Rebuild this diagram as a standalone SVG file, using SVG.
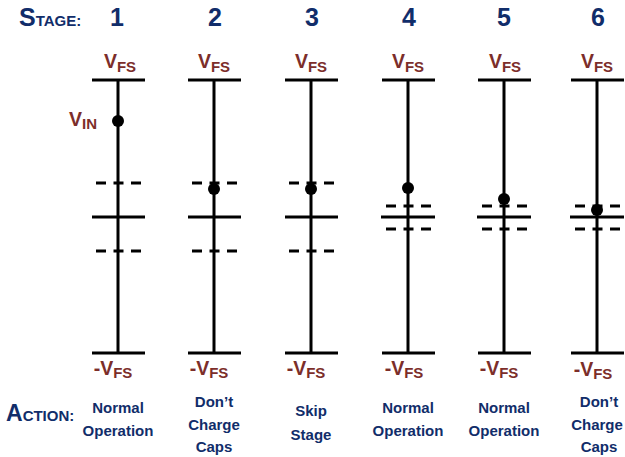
<svg xmlns="http://www.w3.org/2000/svg" width="625" height="457" viewBox="0 0 625 457">
<style>
.t{font-family:"Liberation Sans",Arial,sans-serif;font-weight:bold}
.blue{fill:#112D6A}
.red{fill:#7C2E2A}
.ln{stroke:#000;stroke-width:3;fill:none}
.dash{stroke:#000;stroke-width:3;fill:none;stroke-dasharray:10 7.5}
.act{font-size:15px;text-anchor:middle}
.v{font-size:19.5px;text-anchor:middle}
.sub{font-size:15px}
.num{font-size:25px;text-anchor:middle}
</style>
<rect width="625" height="457" fill="#fff"/>
<g id="headers">
<text class="t blue" x="19" y="26" font-size="25">S<tspan font-size="15">TAGE:</tspan></text>
<text class="t blue" x="6" y="421" font-size="23">A<tspan font-size="15">CTION:</tspan></text>
</g>
<g id="stage1">
<text class="t blue num" x="117" y="26">1</text>
<line class="ln" x1="118" y1="80" x2="118" y2="353"/>
<line class="ln" x1="92" y1="80" x2="145" y2="80"/>
<line class="ln" x1="92" y1="353" x2="145" y2="353"/>
<line class="ln" x1="92" y1="217" x2="145" y2="217"/>
<line class="dash" x1="96" y1="183" x2="141" y2="183"/>
<line class="dash" x1="96" y1="251" x2="141" y2="251"/>
<circle cx="118" cy="121" r="6"/>
<text class="t red v" x="120" y="68">V<tspan class="sub" dy="3.5">FS</tspan></text>
<text class="t red v" x="113" y="375">-V<tspan class="sub" dy="3">FS</tspan></text>
<text class="t red" x="69" y="126" font-size="19.5">V<tspan class="sub" dy="2.5">IN</tspan></text>
<text class="t blue act" x="118" y="413">Normal</text>
<text class="t blue act" x="118" y="436">Operation</text>
</g>
<g id="stage2">
<text class="t blue num" x="215" y="26">2</text>
<line class="ln" x1="214" y1="80" x2="214" y2="353"/>
<line class="ln" x1="188" y1="80" x2="241" y2="80"/>
<line class="ln" x1="188" y1="353" x2="241" y2="353"/>
<line class="ln" x1="188" y1="217" x2="241" y2="217"/>
<line class="dash" x1="192" y1="183" x2="237" y2="183"/>
<line class="dash" x1="192" y1="251" x2="237" y2="251"/>
<circle cx="214" cy="189" r="6"/>
<text class="t red v" x="214" y="68">V<tspan class="sub" dy="3.5">FS</tspan></text>
<text class="t red v" x="209" y="375">-V<tspan class="sub" dy="3">FS</tspan></text>
<text class="t blue act" x="214" y="407">Don’t</text>
<text class="t blue act" x="214" y="430">Charge</text>
<text class="t blue act" x="214" y="452">Caps</text>
</g>
<g id="stage3">
<text class="t blue num" x="312" y="26">3</text>
<line class="ln" x1="311" y1="80" x2="311" y2="353"/>
<line class="ln" x1="285" y1="80" x2="338" y2="80"/>
<line class="ln" x1="285" y1="353" x2="338" y2="353"/>
<line class="ln" x1="285" y1="217" x2="338" y2="217"/>
<line class="dash" x1="289" y1="183" x2="334" y2="183"/>
<line class="dash" x1="289" y1="251" x2="334" y2="251"/>
<circle cx="311" cy="189" r="6"/>
<text class="t red v" x="311" y="68">V<tspan class="sub" dy="3.5">FS</tspan></text>
<text class="t red v" x="306" y="375">-V<tspan class="sub" dy="3">FS</tspan></text>
<text class="t blue act" x="311" y="416">Skip</text>
<text class="t blue act" x="311" y="440">Stage</text>
</g>
<g id="stage4">
<text class="t blue num" x="409" y="26">4</text>
<line class="ln" x1="408" y1="80" x2="408" y2="353"/>
<line class="ln" x1="382" y1="80" x2="435" y2="80"/>
<line class="ln" x1="382" y1="353" x2="435" y2="353"/>
<line class="ln" x1="381" y1="217" x2="435" y2="217"/>
<line class="dash" x1="386" y1="206" x2="431" y2="206"/>
<line class="dash" x1="386" y1="229" x2="431" y2="229"/>
<circle cx="408" cy="188" r="6"/>
<text class="t red v" x="408" y="68">V<tspan class="sub" dy="3.5">FS</tspan></text>
<text class="t red v" x="404" y="375">-V<tspan class="sub" dy="3">FS</tspan></text>
<text class="t blue act" x="408" y="413">Normal</text>
<text class="t blue act" x="408" y="436">Operation</text>
</g>
<g id="stage5">
<text class="t blue num" x="504" y="26">5</text>
<line class="ln" x1="504" y1="80" x2="504" y2="353"/>
<line class="ln" x1="478" y1="80" x2="531" y2="80"/>
<line class="ln" x1="478" y1="353" x2="531" y2="353"/>
<line class="ln" x1="477" y1="217" x2="531" y2="217"/>
<line class="dash" x1="482" y1="206" x2="527" y2="206"/>
<line class="dash" x1="482" y1="229" x2="527" y2="229"/>
<circle cx="504" cy="199" r="6"/>
<text class="t red v" x="505" y="68">V<tspan class="sub" dy="3.5">FS</tspan></text>
<text class="t red v" x="499" y="375">-V<tspan class="sub" dy="3">FS</tspan></text>
<text class="t blue act" x="504" y="413">Normal</text>
<text class="t blue act" x="504" y="436">Operation</text>
</g>
<g id="stage6">
<text class="t blue num" x="598" y="26">6</text>
<line class="ln" x1="597" y1="80" x2="597" y2="353"/>
<line class="ln" x1="571" y1="80" x2="624" y2="80"/>
<line class="ln" x1="571" y1="353" x2="624" y2="353"/>
<line class="ln" x1="570" y1="217" x2="624" y2="217"/>
<line class="dash" x1="575" y1="206" x2="620" y2="206"/>
<line class="dash" x1="575" y1="229" x2="620" y2="229"/>
<circle cx="597" cy="210" r="6"/>
<text class="t red v" x="597" y="68">V<tspan class="sub" dy="3.5">FS</tspan></text>
<text class="t red v" x="593" y="376">-V<tspan class="sub" dy="3">FS</tspan></text>
<text class="t blue act" x="599" y="407">Don’t</text>
<text class="t blue act" x="597" y="430">Charge</text>
<text class="t blue act" x="599" y="452">Caps</text>
</g>
<g id="connectors"></g>
</svg>
